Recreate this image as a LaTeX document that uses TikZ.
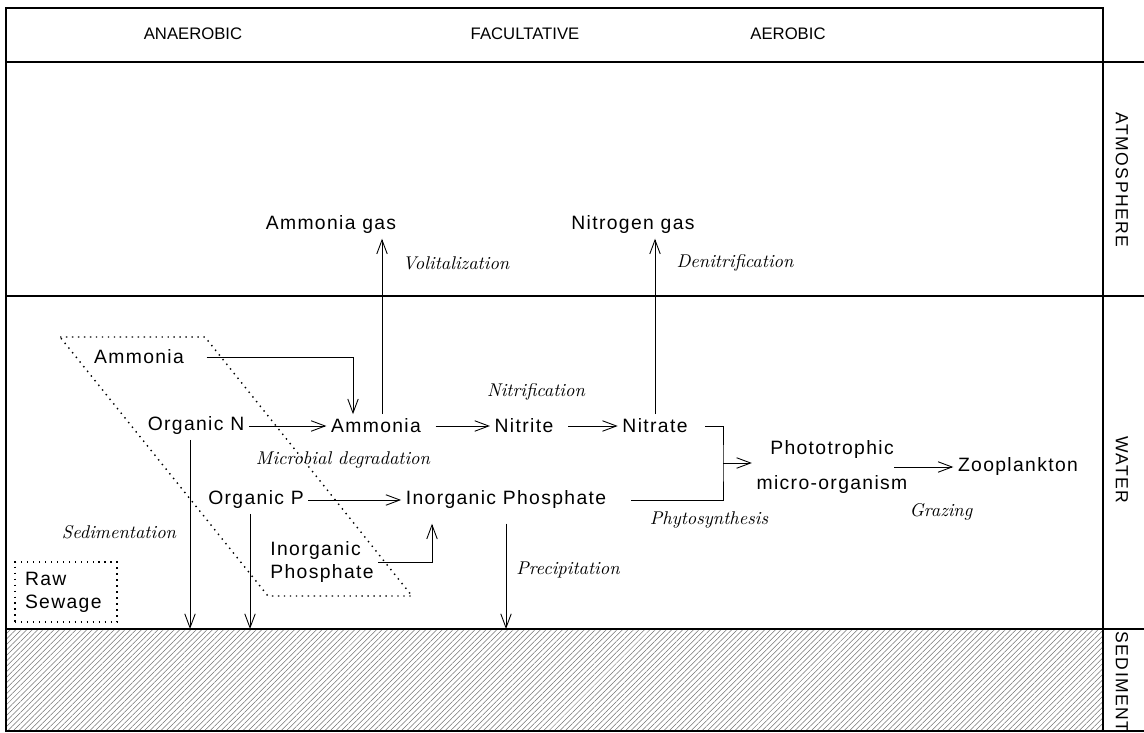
\documentclass[tikz,border=0pt]{standalone}
\usepackage{fontspec}
\newfontfamily\plotfont{Liberation Sans}[LetterSpace=7]
\newfontfamily\zonefont{Liberation Sans}
\newfontfamily\sidefont{Liberation Sans}[LetterSpace=8]
\usetikzlibrary{arrows.meta,patterns.meta}
\begin{document}
\begin{tikzpicture}[x=0.02cm,y=-0.02cm,
  chem/.style={font=\plotfont\fontsize{11}{13}\selectfont, inner sep=2.5pt},
  proc/.style={font=\itshape\fontsize{10.5}{12}\selectfont, inner sep=1pt},
  zone/.style={font=\zonefont\fontsize{9.5}{11}\selectfont},
  side/.style={font=\sidefont\fontsize{10}{12}\selectfont, rotate=-90},
  flow/.style={draw, line width=0.5pt, -{Straight Barb[length=2.8mm,width=2.1mm]}},
  rule/.style={draw, line width=0.6pt},
  dotline/.style={draw, line width=0.8pt, dash pattern=on 0.8pt off 2.6pt}]
\useasboundingbox (0,0) rectangle (1144,733);

% zones
\fill[pattern={Lines[angle=45,distance=2.2pt,line width=0.3pt]}, pattern color=black!55] (6,629) rectangle (1103,731);
\path[rule] (6,8) rectangle (1103,731);
\path[rule] (6,62) -- (1144,62);
\path[rule] (6,296) -- (1144,296);
\path[rule] (6,629) -- (1144,629);
\path[rule] (6,731) -- (1144,731);
\coordinate (sedtop) at (0,629);

\node[zone] (anaer) at (193,34) {ANAEROBIC};
\node[zone] (facul) at (525,34) {FACULTATIVE};
\node[zone] (aer) at (788,34) {AEROBIC};
\node[side] (atm) at (1122,180) {ATMOSPHERE};
\node[side] (wat) at (1122,470) {WATER};
\node[side] (sed) at (1122,682) {SEDIMENT};

% raw sewage
\path[dotline] (60,337) -- (205,337) -- (412,596) -- (268,596) -- cycle;
\node[dotline, chem, align=left, text width=1.64cm, inner sep=0.2cm, minimum height=1.02cm] (rawsew) at (66,592) {Raw\\Sewage};

% species
\node[chem] (amgas) at (331,225) {Ammonia gas};
\node[chem] (ngas) at (633,225) {Nitrogen gas};
\node[chem] (amraw) at (139,357) {Ammonia};
\node[chem] (orgN) at (196,426) {Organic N};
\node[chem] (amm) at (376,426) {Ammonia};
\node[chem] (nitrite) at (524,426) {Nitrite};
\node[chem] (nitrate) at (655,426) {Nitrate};
\node[chem] (orgP) at (256,500) {Organic P};
\node[chem] (inP) at (506,500) {Inorganic Phosphate};
\node[chem, align=left] (inPraw) at (322,562) {Inorganic\\Phosphate};
\node[chem, align=center] (photo) at (832,467) {Phototrophic\\[7pt]micro-organism};
\node[chem] (zoo) at (1018,467) {Zooplankton};
\coordinate (brk) at (723,463);

% processes
\node[proc] (vol) at (456,263) {Volitalization};
\node[proc] (denit) at (735,263) {Denitrification};
\node[proc] (nitrif) at (536,392) {Nitrification};
\node[proc] (microb) at (343,460) {Microbial degradation};
\node[proc] (sedim) at (119,532) {Sedimentation};
\node[proc] (precip) at (568,570) {Precipitation};
\node[proc] (phyto) at (709,520) {Phytosynthesis};
\node[proc] (graz) at (941,512) {Grazing};

% flows
\path[flow] ([xshift=0.36cm]amraw.east) -| ([xshift=-0.46cm]amm.north);
\path[flow] ([xshift=0.12cm]amm.north) -- ([xshift=0.12cm]amm.north |- amgas.south);
\path[flow] (nitrate.north) -- (nitrate.north |- ngas.south);
\path[flow] (orgN.east) -- (amm.west);
\path[flow] ([xshift=0.2cm]amm.east) -- (nitrite.west);
\path[flow] ([xshift=0.2cm]nitrite.east) -- (nitrate.west);
\path[draw, line width=0.5pt] ([xshift=0.26cm]nitrate.east) -| (brk) |- ([xshift=0.4cm]inP.east);
\path[flow] (brk) -- (brk -| photo.west);
\path[flow] (orgP.east) -- (inP.west);
\path[flow, shorten >=2mm] (inPraw.east) -| ([xshift=-1.48cm]inP.south);
\path[flow] ([xshift=-0.12cm]orgN.south) -- ([xshift=-0.12cm]orgN.south |- sedtop);
\path[flow] ([xshift=-0.12cm]orgP.south) -- ([xshift=-0.12cm]orgP.south |- sedtop);
\path[flow] ([yshift=-0.2cm]inP.south) -- (inP.south |- sedtop);
\path[flow] ([xshift=-0.36cm]photo.east) -- (zoo.west);
\end{tikzpicture}
\end{document}
